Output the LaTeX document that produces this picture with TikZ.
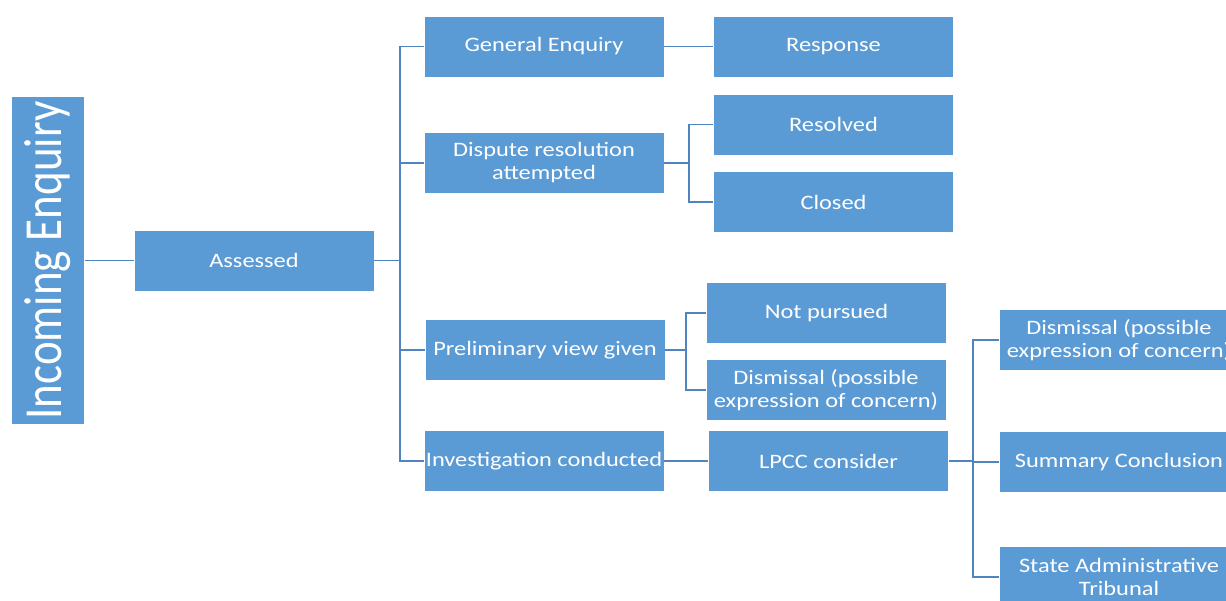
\documentclass[tikz,border=0pt]{standalone}
\usepackage{fontspec}
\usepackage{graphicx}
\setmainfont{Carlito}
\definecolor{boxblue}{RGB}{91,155,213}
\definecolor{lineblue}{RGB}{80,132,192}
\newcommand{\sx}[1]{\scalebox{1.19}[1]{#1}}
\begin{document}
\begin{tikzpicture}[x=1pt,y=-1pt,
  box/.style={fill=boxblue,draw=white,line width=0.8pt,text=white,minimum width=240pt,minimum height=61pt,inner sep=0pt,align=center,font=\fontsize{20.5}{23}\selectfont},
  conn/.style={draw=lineblue,line width=1.6pt}]
\useasboundingbox (0,0) rectangle (1226,601);
\clip (0,0) rectangle (1226,601);
\node[box,minimum width=328pt,minimum height=73pt,rotate=90,font=\fontsize{45}{48}\selectfont] (ie) at (48,260.5) {\scalebox{1}[1.19]{Incoming Enquiry}};
\node[box] (as) at (254,260.5) {\sx{Assessed}};
\node[box] (ge) at (544,46.5) {\sx{General Enquiry}};
\node[box] (resp) at (833.5,46.5) {\sx{Response}};
\node[box] (dr) at (544,163) {\sx{Dispute resolution}\\\sx{attempted}};
\node[box] (res) at (833.5,124.5) {\sx{Resolved}};
\node[box] (clo) at (833.5,202) {\sx{Closed}};
\node[box] (pv) at (545,350) {\sx{Preliminary view given}};
\node[box] (np) at (826.5,313) {\sx{Not pursued}};
\node[box] (dm1) at (826,390) {\sx{Dismissal (possible}\\\sx{expression of concern)}};
\node[box] (ic) at (544,461) {\sx{Investigation conducted}};
\node[box] (lp) at (828.5,461) {\sx{LPCC consider}};
\node[box] (dm2) at (1119,340) {\sx{Dismissal (possible}\\\sx{expression of concern)}};
\node[box] (sc) at (1119,462) {\sx{Summary Conclusion}};
\node[box] (sat) at (1119,577) {\sx{State Administrative}\\\sx{Tribunal}};
\coordinate (t1) at (400,260.5);
\coordinate (t2) at (689,163);
\coordinate (t3) at (686,350);
\coordinate (t4) at (973,461);
\draw[conn] (ie.south) -- (as.west);
\draw[conn] (as.east) -- (t1);
\draw[conn] (t1) |- (ge.west);
\draw[conn] (t1) |- (dr.west);
\draw[conn] (t1) |- (pv.west);
\draw[conn] (t1) |- (ic.west);
\draw[conn] (ge.east) -- (resp.west);
\draw[conn] (dr.east) -- (t2);
\draw[conn] (t2) |- (res.west);
\draw[conn] (t2) |- (clo.west);
\draw[conn] (pv.east) -- (t3);
\draw[conn] (t3) |- (np.west);
\draw[conn] (t3) |- (dm1.west);
\draw[conn] (ic.east) -- (lp.west);
\draw[conn] (lp.east) -- (t4);
\draw[conn] (t4) |- (dm2.west);
\draw[conn] (t4) |- (sc.west);
\draw[conn] (t4) |- (sat.west);
\end{tikzpicture}
\end{document}
